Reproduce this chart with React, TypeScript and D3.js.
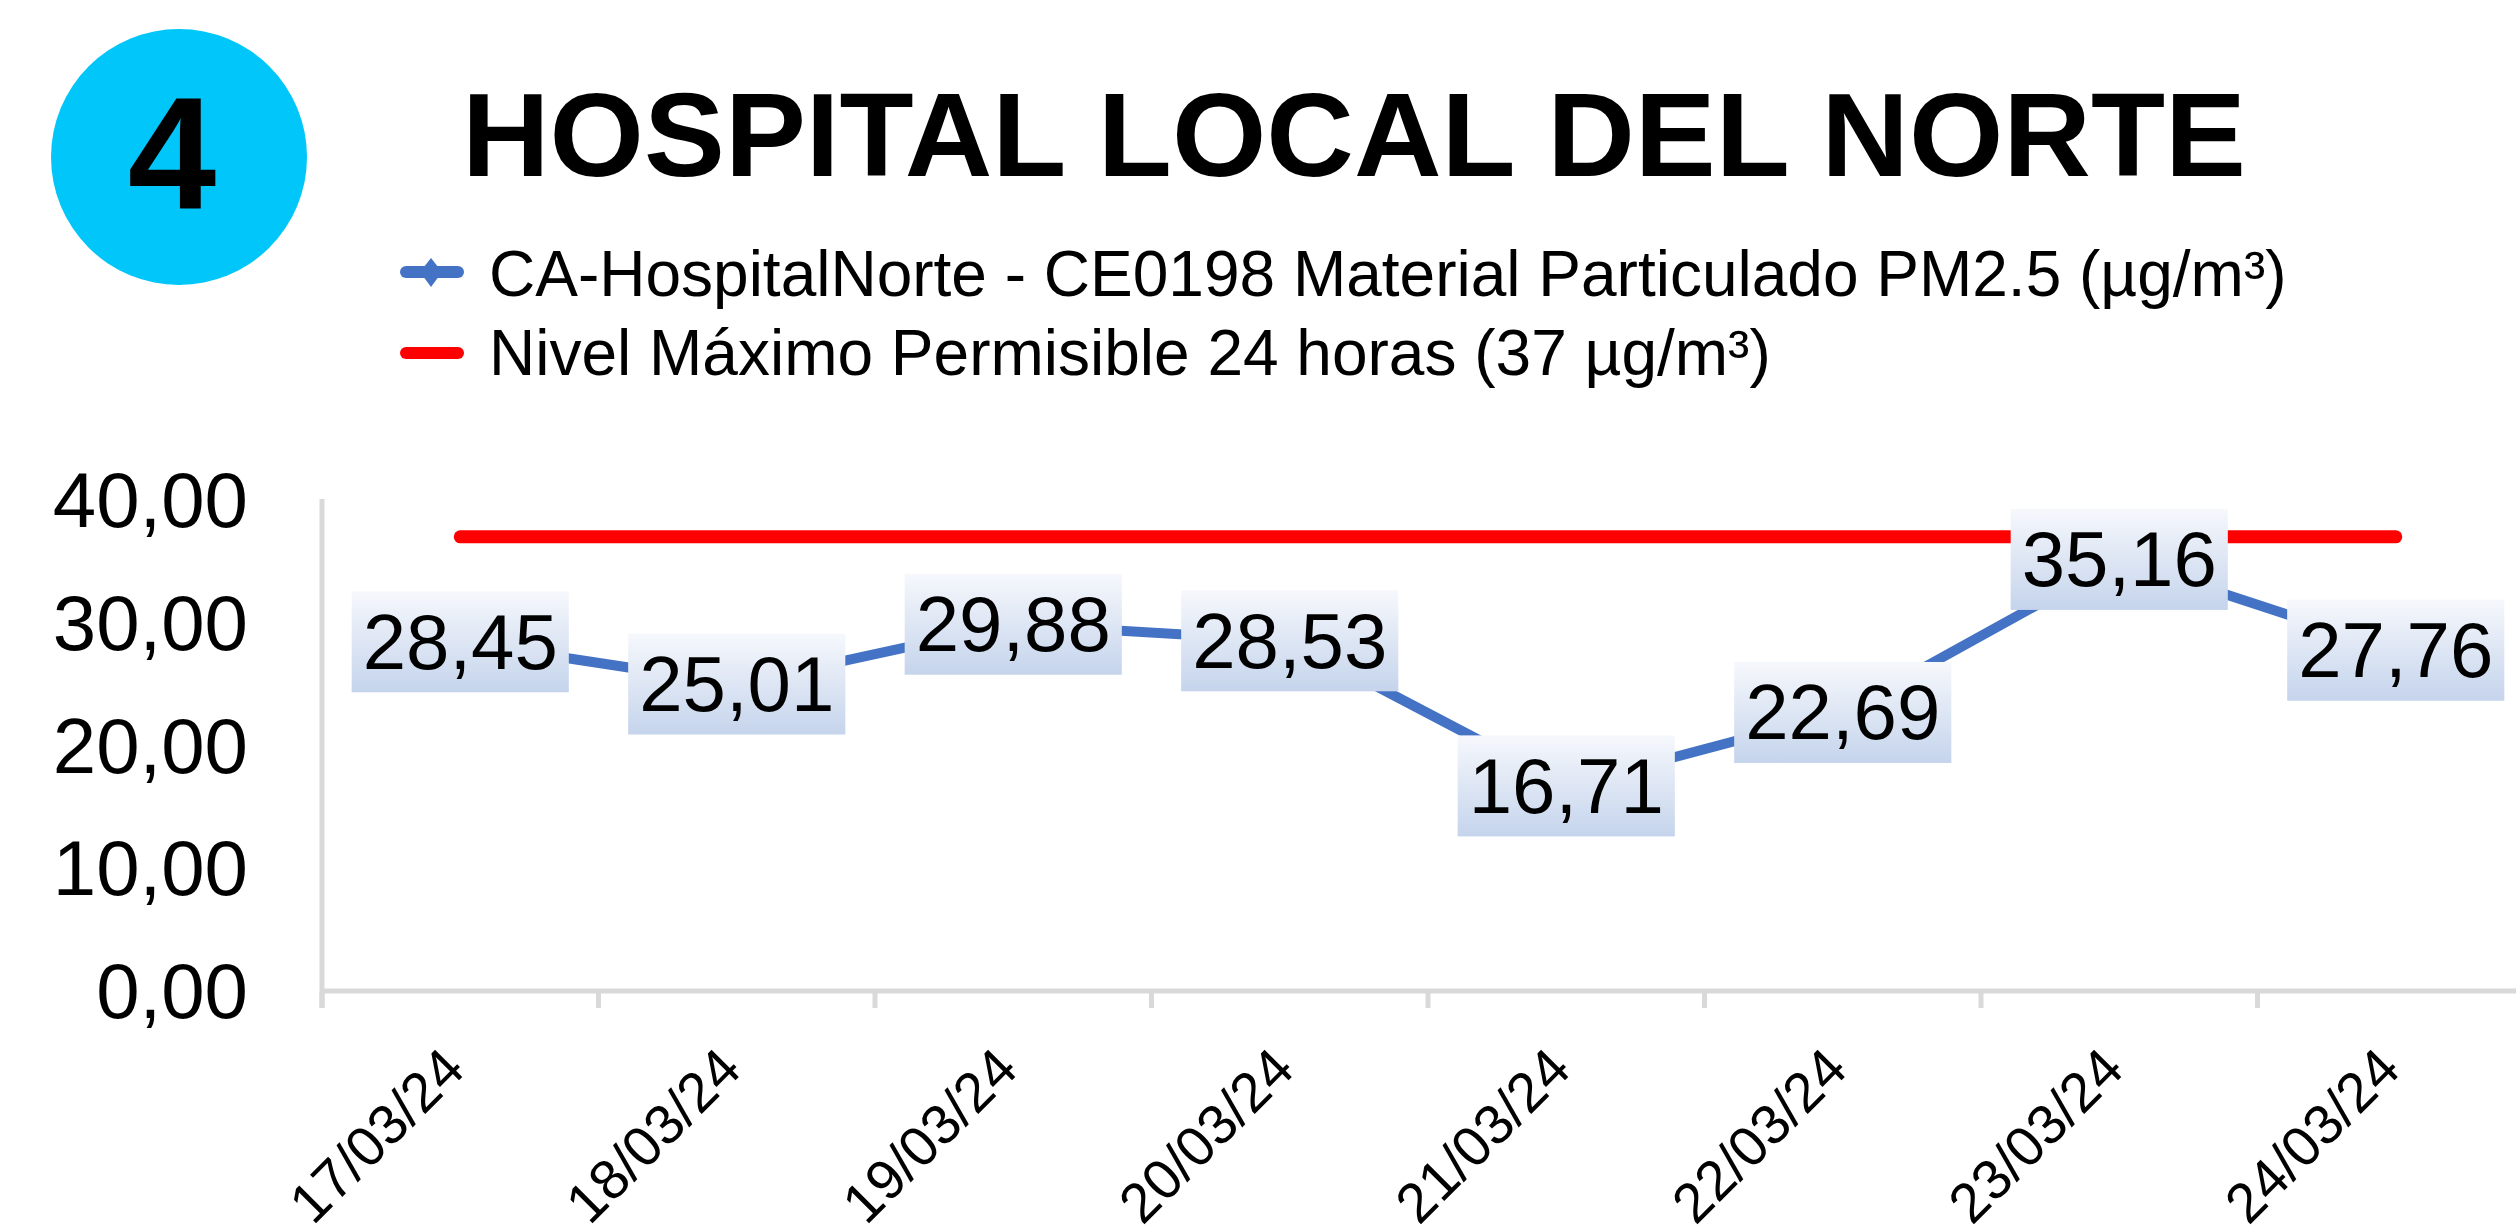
import React from "react";
import * as d3 from "d3";

const categories = ["17/03/24", "18/03/24", "19/03/24", "20/03/24", "21/03/24", "22/03/24", "23/03/24", "24/03/24"];
const pm25Values = [28.45, 25.01, 29.88, 28.53, 16.71, 22.69, 35.16, 27.76];
const limitValue = 37;
const yTicks = [0, 10, 20, 30, 40];
const seriesName = "CA-HospitalNorte - CE0198 Material Particulado PM2.5 (µg/m³)";
const limitName = "Nivel Máximo Permisible 24 horas (37 µg/m³)";
const title = "HOSPITAL LOCAL DEL NORTE";
const badge = "4";

const W = 2516;
const H = 1226;
const FONT = "'Liberation Sans', Arial, sans-serif";
const fmt = (v: number) => v.toFixed(2).replace(".", ",");

export default function App() {
  const plotLeft = 322;
  const band = 276.5;
  const x = d3.scaleBand<string>().domain(categories).range([plotLeft, plotLeft + band * categories.length]).paddingInner(0).paddingOuter(0);
  const y = d3.scaleLinear().domain([0, 40]).range([991, 500]);
  const cx = (c: string) => (x(c) as number) + x.bandwidth() / 2;

  const line = d3.line<number>().x((_, i) => cx(categories[i])).y((d) => y(d));
  const labelFs = 78;
  const textWidth = (s: string) => {
    let w = 0;
    for (const ch of s) w += ch === "," ? 0.278 : 0.556;
    return w * labelFs;
  };

  const boundaries = categories.map((c) => x(c) as number).concat([plotLeft + band * categories.length]);

  return (
    <svg width={W} height={H} style={{ position: "absolute", left: 0, top: 0, background: "#fff" }} fontFamily={FONT}>
      <defs>
        <linearGradient id="lblGrad" x1="0" y1="0" x2="0" y2="1">
          <stop offset="0" stopColor="#F6F8FC" />
          <stop offset="1" stopColor="#C5D4EC" />
        </linearGradient>
      </defs>
      <rect x={0} y={0} width={W} height={H} fill="#fff" />
      {/* badge */}
      <circle cx={179} cy={157} r={128} fill="#00C6FA" />
      <text x={172} y={208} textAnchor="middle" fontSize={159} fontWeight="bold" fill="#000">{badge}</text>
      {/* title */}
      <text x={462} y={176} fontSize={119} fontWeight="bold" fill="#000" textLength={1784} lengthAdjust="spacingAndGlyphs">{title}</text>
      {/* legend */}
      <line x1={406} x2={458} y1={272} y2={272} stroke="#4472C4" strokeWidth={12} strokeLinecap="round" />
      <path d={`M431,258 L442,272 L431,287 L420,272 Z`} fill="#4472C4" />
      <text x={489} y={296} fontSize={64} fill="#000">{seriesName}</text>
      <line x1={406} x2={458} y1={353} y2={353} stroke="#FF0000" strokeWidth={12} strokeLinecap="round" />
      <text x={489} y={375} fontSize={64} fill="#000">{limitName}</text>

      {/* axes */}
      <line x1={plotLeft} x2={plotLeft} y1={499} y2={1008} stroke="#D9D9D9" strokeWidth={5} />
      <line x1={plotLeft} x2={W} y1={991} y2={991} stroke="#D9D9D9" strokeWidth={5} />
      {boundaries.map((b, i) => (
        <line key={i} x1={b} x2={b} y1={991} y2={1008} stroke="#D9D9D9" strokeWidth={5} />
      ))}
      {yTicks.map((t) => (
        <text key={t} x={248} y={y(t) + 27} textAnchor="end" fontSize={78} fill="#000">{fmt(t)}</text>
      ))}
      {categories.map((c) => (
        <text key={c} transform={`translate(${cx(c) + 7},1072) rotate(-45)`} textAnchor="end" fontSize={56} fill="#000">{c}</text>
      ))}

      {/* limit line */}
      <line x1={cx(categories[0])} x2={cx(categories[categories.length - 1])} y1={y(limitValue)} y2={y(limitValue)} stroke="#FF0000" strokeWidth={13} strokeLinecap="round" />
      {/* series */}
      <path d={line(pm25Values) || ""} fill="none" stroke="#4472C4" strokeWidth={10} strokeLinejoin="round" strokeLinecap="round" />
      {pm25Values.map((v, i) => {
        const s = fmt(v);
        const tw = textWidth(s);
        const bw = tw + 22;
        const bh = 101;
        const px = cx(categories[i]);
        const py = y(v);
        return (
          <g key={i}>
            <rect x={px - bw / 2} y={py - bh / 2} width={bw} height={bh} fill="url(#lblGrad)" />
            <text x={px} y={py + 27} textAnchor="middle" fontSize={labelFs} fill="#000">{s}</text>
          </g>
        );
      })}
    </svg>
  );
}
